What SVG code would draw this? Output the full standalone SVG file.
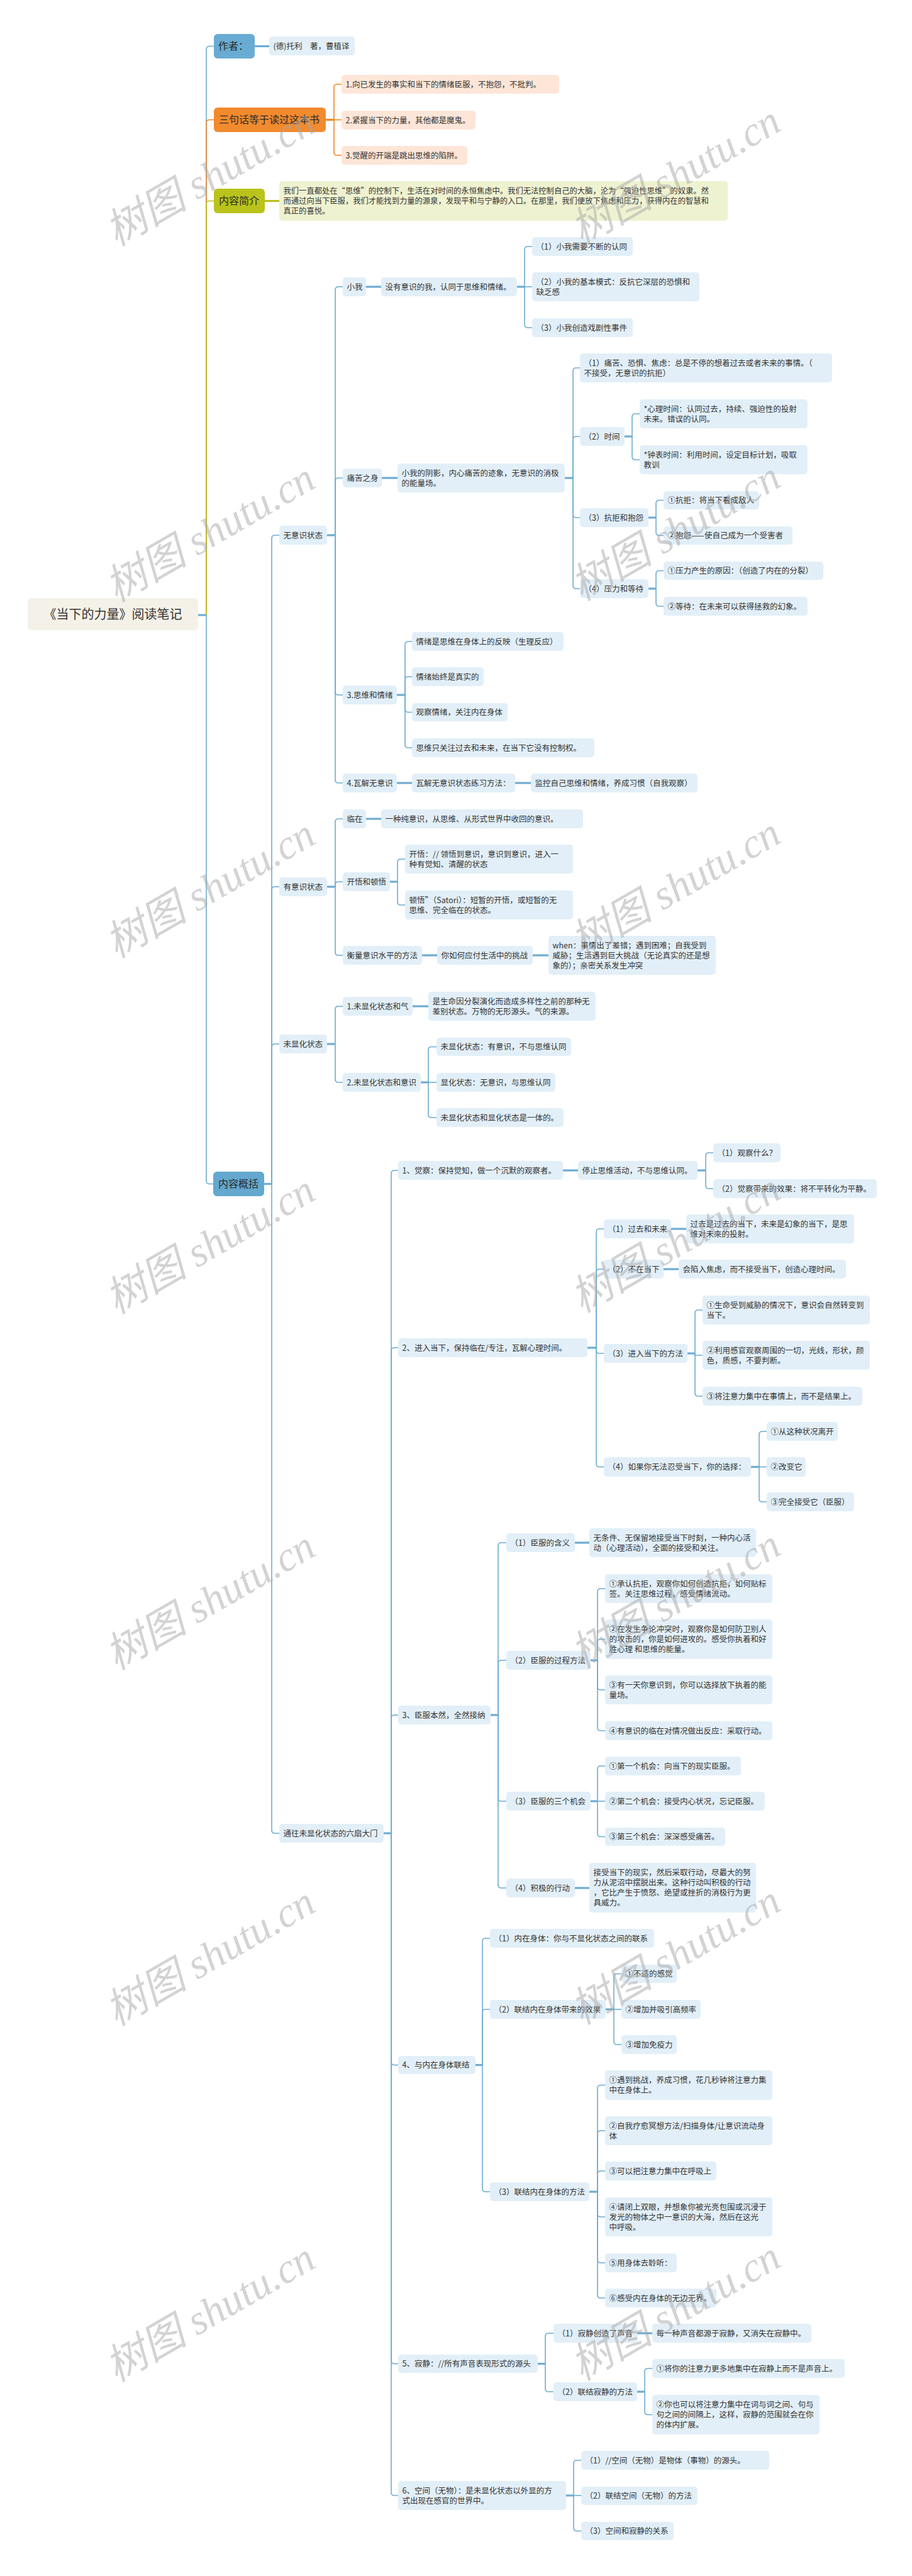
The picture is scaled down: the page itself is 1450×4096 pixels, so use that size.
<svg xmlns="http://www.w3.org/2000/svg" width="1450" height="4096" viewBox="0 0 1450 4096">
<style>
.l{fill:#e2eff8}
.p{fill:#fde6d8}
.y{fill:#eff2d0}
.t{font-family:"Noto Sans CJK SC","Liberation Sans",sans-serif;font-size:12.5px;fill:#333}
.m{font-family:"Noto Sans CJK SC","Liberation Sans",sans-serif;font-size:16px;fill:#2a2a2a}
.c{fill:none;stroke:#6eacd1;stroke-width:1.6}
.k{fill:none;stroke:#6eacd1;stroke-width:3.2}
.co{fill:none;stroke:#f0872a;stroke-width:1.6}
.ko{fill:none;stroke:#f0872a;stroke-width:3.2}
.cg{fill:none;stroke:#b7c01c;stroke-width:1.6}
.kg{fill:none;stroke:#b7c01c;stroke-width:3.2}
.w{font-family:"Liberation Serif","Noto Sans CJK SC",serif;font-style:italic;font-size:66px;fill:#a8a8a8;fill-opacity:0.5}
</style>
<rect width="1450" height="4096" fill="#ffffff"/>
<g id="connectors">
<path class="k" d="M315 978 H328"/>
<path class="c" d="M328 978 V78.5 Q328 73.5 333 73.5 H340"/>
<path class="c" d="M328 978 V1877.5 Q328 1882.5 333 1882.5 H339"/>
<path class="k" d="M405 73.5 H428"/>
<path class="co" d="M328 978 V195.5 Q328 190.5 333 190.5 H340"/>
<path class="ko" d="M518 190.5 H531"/>
<path class="co" d="M531 190.5 V139 Q531 134 536 134 H543"/>
<path class="co" d="M531 190.5 H543"/>
<path class="co" d="M531 190.5 V242 Q531 247 536 247 H543"/>
<path class="cg" d="M328 978 V324.5 Q328 319.5 333 319.5 H340"/>
<path class="kg" d="M421 319.5 H444"/>
<path class="k" d="M420 1882.5 H432"/>
<path class="c" d="M432 1882.5 V856 Q432 851 437 851 H444"/>
<path class="c" d="M432 1882.5 V1415 Q432 1410 437 1410 H444"/>
<path class="c" d="M432 1882.5 V1665 Q432 1660 437 1660 H444"/>
<path class="c" d="M432 1882.5 V2910 Q432 2915 437 2915 H444"/>
<path class="k" d="M520 851 H533"/>
<path class="c" d="M533 851 V461 Q533 456 538 456 H545"/>
<path class="c" d="M533 851 V765 Q533 760 538 760 H545"/>
<path class="c" d="M533 851 V1100 Q533 1105 538 1105 H545"/>
<path class="c" d="M533 851 V1240 Q533 1245 538 1245 H545"/>
<path class="k" d="M582 456 H606"/>
<path class="k" d="M822 456 H834"/>
<path class="c" d="M834 456 V397 Q834 392 839 392 H846"/>
<path class="c" d="M834 456 H846"/>
<path class="c" d="M834 456 V516 Q834 521 839 521 H846"/>
<path class="k" d="M607 760 H632"/>
<path class="k" d="M898 760 H911"/>
<path class="c" d="M911 760 V590 Q911 585 916 585 H922"/>
<path class="c" d="M911 760 V699 Q911 694 916 694 H922"/>
<path class="c" d="M911 760 V818 Q911 823 916 823 H922"/>
<path class="c" d="M911 760 V931 Q911 936 916 936 H922"/>
<path class="k" d="M993 694 H1005"/>
<path class="c" d="M1005 694 V663 Q1005 658 1010 658 H1017"/>
<path class="c" d="M1005 694 V726 Q1005 731 1010 731 H1017"/>
<path class="k" d="M1031 823 H1043"/>
<path class="c" d="M1043 823 V800.5 Q1043 795.5 1048 795.5 H1055"/>
<path class="c" d="M1043 823 V846.5 Q1043 851.5 1048 851.5 H1055"/>
<path class="k" d="M1031 936 H1043"/>
<path class="c" d="M1043 936 V912.5 Q1043 907.5 1048 907.5 H1055"/>
<path class="c" d="M1043 936 V959 Q1043 964 1048 964 H1055"/>
<path class="k" d="M631 1105 H644"/>
<path class="c" d="M644 1105 V1025 Q644 1020 649 1020 H655"/>
<path class="c" d="M644 1105 V1081 Q644 1076 649 1076 H655"/>
<path class="c" d="M644 1105 V1127.5 Q644 1132.5 649 1132.5 H655"/>
<path class="c" d="M644 1105 V1184 Q644 1189 649 1189 H655"/>
<path class="k" d="M631 1245 H655"/>
<path class="k" d="M819 1245 H844"/>
<path class="k" d="M520 1410 H533"/>
<path class="c" d="M533 1410 V1307 Q533 1302 538 1302 H545"/>
<path class="c" d="M533 1410 V1407 Q533 1402 538 1402 H545"/>
<path class="c" d="M533 1410 V1514 Q533 1519 538 1519 H545"/>
<path class="k" d="M582 1302 H606"/>
<path class="k" d="M620 1402 H632"/>
<path class="c" d="M632 1402 V1371 Q632 1366 637 1366 H644"/>
<path class="c" d="M632 1402 V1434 Q632 1439 637 1439 H644"/>
<path class="k" d="M671 1519 H695"/>
<path class="k" d="M847 1519 H872"/>
<path class="k" d="M520 1660 H533"/>
<path class="c" d="M533 1660 V1605 Q533 1600 538 1600 H545"/>
<path class="c" d="M533 1660 V1716 Q533 1721 538 1721 H545"/>
<path class="k" d="M656 1600 H681"/>
<path class="k" d="M669 1721 H681"/>
<path class="c" d="M681 1721 V1669.5 Q681 1664.5 686 1664.5 H694"/>
<path class="c" d="M681 1721 H694"/>
<path class="c" d="M681 1721 V1772 Q681 1777 686 1777 H694"/>
<path class="k" d="M610 2915 H622"/>
<path class="c" d="M622 2915 V1866 Q622 1861 627 1861 H633"/>
<path class="c" d="M622 2915 V2148 Q622 2143 627 2143 H633"/>
<path class="c" d="M622 2915 V2732 Q622 2727 627 2727 H633"/>
<path class="c" d="M622 2915 V3278.5 Q622 3283.5 627 3283.5 H633"/>
<path class="c" d="M622 2915 V3753.5 Q622 3758.5 627 3758.5 H633"/>
<path class="c" d="M622 2915 V3963 Q622 3968 627 3968 H633"/>
<path class="k" d="M895 1861 H919"/>
<path class="k" d="M1109 1861 H1122"/>
<path class="c" d="M1122 1861 V1838 Q1122 1833 1127 1833 H1134"/>
<path class="c" d="M1122 1861 V1885 Q1122 1890 1127 1890 H1134"/>
<path class="k" d="M934 2143 H948"/>
<path class="c" d="M948 2143 V1959 Q948 1954 953 1954 H960"/>
<path class="c" d="M948 2143 V2023 Q948 2018 953 2018 H960"/>
<path class="c" d="M948 2143 V2147 Q948 2152 953 2152 H960"/>
<path class="c" d="M948 2143 V2327.5 Q948 2332.5 953 2332.5 H960"/>
<path class="k" d="M1067 1954 H1091"/>
<path class="k" d="M1055 2018 H1079"/>
<path class="k" d="M1093 2152 H1105"/>
<path class="c" d="M1105 2152 V2088 Q1105 2083 1110 2083 H1117"/>
<path class="c" d="M1105 2152 V2155 H1117"/>
<path class="c" d="M1105 2152 V2215 Q1105 2220 1110 2220 H1117"/>
<path class="k" d="M1194 2332.5 H1207"/>
<path class="c" d="M1207 2332.5 V2281 Q1207 2276 1212 2276 H1219"/>
<path class="c" d="M1207 2332.5 H1219"/>
<path class="c" d="M1207 2332.5 V2383 Q1207 2388 1212 2388 H1219"/>
<path class="k" d="M780 2727 H792"/>
<path class="c" d="M792 2727 V2458 Q792 2453 797 2453 H805"/>
<path class="c" d="M792 2727 V2645 Q792 2640 797 2640 H805"/>
<path class="c" d="M792 2727 V2859 Q792 2864 797 2864 H805"/>
<path class="c" d="M792 2727 V2997 Q792 3002 797 3002 H805"/>
<path class="k" d="M914 2453 H937"/>
<path class="k" d="M939 2640 H950"/>
<path class="c" d="M950 2640 V2531 Q950 2526 955 2526 H962"/>
<path class="c" d="M950 2640 V2611.5 Q950 2606.5 955 2606.5 H962"/>
<path class="c" d="M950 2640 V2682 Q950 2687 955 2687 H962"/>
<path class="c" d="M950 2640 V2747 Q950 2752 955 2752 H962"/>
<path class="k" d="M939 2864 H950"/>
<path class="c" d="M950 2864 V2813 Q950 2808 955 2808 H962"/>
<path class="c" d="M950 2864 H962"/>
<path class="c" d="M950 2864 V2915.5 Q950 2920.5 955 2920.5 H962"/>
<path class="k" d="M914 3002 H937"/>
<path class="k" d="M756 3283.5 H767"/>
<path class="c" d="M767 3283.5 V3087 Q767 3082 772 3082 H779"/>
<path class="c" d="M767 3283.5 V3200 Q767 3195 772 3195 H779"/>
<path class="c" d="M767 3283.5 V3480 Q767 3485 772 3485 H779"/>
<path class="k" d="M963 3195 H976"/>
<path class="c" d="M976 3195 V3143.5 Q976 3138.5 981 3138.5 H988"/>
<path class="c" d="M976 3195 H988"/>
<path class="c" d="M976 3195 V3246 Q976 3251 981 3251 H988"/>
<path class="k" d="M937 3485 H950"/>
<path class="c" d="M950 3485 V3320.5 Q950 3315.5 955 3315.5 H962"/>
<path class="c" d="M950 3485 V3393 Q950 3388 955 3388 H962"/>
<path class="c" d="M950 3485 V3457 Q950 3452 955 3452 H962"/>
<path class="c" d="M950 3485 V3520 Q950 3525 955 3525 H962"/>
<path class="c" d="M950 3485 V3593 Q950 3598 955 3598 H962"/>
<path class="c" d="M950 3485 V3649 Q950 3654 955 3654 H962"/>
<path class="k" d="M855 3758.5 H867"/>
<path class="c" d="M867 3758.5 V3715 Q867 3710 872 3710 H880"/>
<path class="c" d="M867 3758.5 V3798 Q867 3803 872 3803 H880"/>
<path class="k" d="M1013 3710 H1037"/>
<path class="k" d="M1013 3803 H1025"/>
<path class="c" d="M1025 3803 V3771 Q1025 3766 1030 3766 H1037"/>
<path class="c" d="M1025 3803 V3834.5 Q1025 3839.5 1030 3839.5 H1037"/>
<path class="k" d="M900 3968 H912"/>
<path class="c" d="M912 3968 V3917 Q912 3912 917 3912 H924"/>
<path class="c" d="M912 3968 H924"/>
<path class="c" d="M912 3968 V4019.5 Q912 4024.5 917 4024.5 H924"/>
</g>

<g id="root"><rect x="44" y="951" width="271" height="51" rx="6" fill="#f4f2e8"/><text x="179.5" y="984" text-anchor="middle" font-family="Noto Sans CJK SC, sans-serif" font-size="20" fill="#333">《当下的力量》阅读笔记</text></g>

<g id="author"><rect x="340" y="54" width="65" height="39" rx="6" fill="#69acd3"/><text class="m" x="347" y="79">作者：</text></g>
<g id="author-1"><rect class="l" x="428" y="58" width="136" height="30" rx="5"/><text class="t" x="434.5" y="77.5">(德)托利　著，曹植译</text></g>

<g id="three"><rect x="340" y="171" width="178" height="39" rx="6" fill="#f28a2e"/><text class="m" x="348" y="196">三句话等于读过这本书</text></g>
<g id="three-1"><rect class="p" x="543" y="119" width="346" height="30" rx="5"/><text class="t" x="549.5" y="138.5">1.向已发生的事实和当下的情绪臣服，不抱怨，不批判。</text></g>
<g id="three-2"><rect class="p" x="543" y="176" width="213" height="30" rx="5"/><text class="t" x="549.5" y="195.5">2.紧握当下的力量，其他都是魔鬼。</text></g>
<g id="three-3"><rect class="p" x="543" y="232" width="200" height="30" rx="5"/><text class="t" x="549.5" y="251.5">3.觉醒的开端是跳出思维的陷阱。</text></g>

<g id="intro"><rect x="340" y="300" width="81" height="39" rx="6" fill="#bac31c"/><text class="m" x="348" y="325">内容简介</text></g>
<g id="intro-1"><rect class="y" x="444" y="288" width="713" height="63" rx="5"/><text class="t" x="450.5" y="307.5" style="font-size:12.3px">我们一直都处在“思维”的控制下，生活在对时间的永恒焦虑中。我们无法控制自己的大脑，沦为“强迫性思维”的奴隶。然</text><text class="t" x="450.5" y="323.5" style="font-size:12.3px">而通过向当下臣服，我们才能找到力量的源泉，发现平和与宁静的入口。在那里，我们便放下焦虑和压力，获得内在的智慧和</text><text class="t" x="450.5" y="339.5" style="font-size:12.3px">真正的喜悦。</text></g>

<g id="summary"><rect x="339" y="1863" width="81" height="39" rx="6" fill="#64a8cf"/><text class="m" x="347" y="1888">内容概括</text></g>

<g id="c1"><rect class="l" x="444" y="836" width="76" height="30" rx="5"/><text class="t" x="450.5" y="855.5">无意识状态</text></g>
<g id="c2"><rect class="l" x="444" y="1395" width="76" height="30" rx="5"/><text class="t" x="450.5" y="1414.5">有意识状态</text></g>
<g id="c3"><rect class="l" x="444" y="1645" width="76" height="30" rx="5"/><text class="t" x="450.5" y="1664.5">未显化状态</text></g>
<g id="c4"><rect class="l" x="444" y="2900" width="166" height="30" rx="5"/><text class="t" x="450.5" y="2919.5">通往未显化状态的六扇大门</text></g>

<g id="d1"><rect class="l" x="545" y="441" width="37" height="30" rx="5"/><text class="t" x="551.5" y="460.5">小我</text></g>
<g id="e1"><rect class="l" x="606" y="441" width="216" height="30" rx="5"/><text class="t" x="612.5" y="460.5">没有意识的我，认同于思维和情绪。</text></g>
<g id="e1a"><rect class="l" x="846" y="377" width="160" height="30" rx="5"/><text class="t" x="852.5" y="396.5">（1）小我需要不断的认同</text></g>
<g id="e1b"><rect class="l" x="846" y="433" width="266" height="46" rx="5"/><text class="t" x="852.5" y="452.5">（2）小我的基本模式：反抗它深层的恐惧和</text><text class="t" x="852.5" y="468.5">缺乏感</text></g>
<g id="e1c"><rect class="l" x="846" y="506" width="160" height="30" rx="5"/><text class="t" x="852.5" y="525.5">（3）小我创造戏剧性事件</text></g>

<g id="d2"><rect class="l" x="545" y="745" width="62" height="30" rx="5"/><text class="t" x="551.5" y="764.5">痛苦之身</text></g>
<g id="e2"><rect class="l" x="632" y="737" width="266" height="46" rx="5"/><text class="t" x="638.5" y="756.5">小我的阴影，内心痛苦的迹象，无意识的消极</text><text class="t" x="638.5" y="772.5">的能量场。</text></g>
<g id="e2a"><rect class="l" x="922" y="562" width="401" height="46" rx="5"/><text class="t" x="928.5" y="581.5">（1）痛苦、恐惧、焦虑：总是不停的想着过去或者未来的事情。（</text><text class="t" x="928.5" y="597.5">不接受，无意识的抗拒）</text></g>
<g id="e2b"><rect class="l" x="922" y="679" width="71" height="30" rx="5"/><text class="t" x="928.5" y="698.5">（2）时间</text></g>
<g id="e2b1"><rect class="l" x="1017" y="635" width="267" height="46" rx="5"/><text class="t" x="1023.5" y="654.5">*心理时间：认同过去，持续、强迫性的投射</text><text class="t" x="1023.5" y="670.5">未来。错误的认同。</text></g>
<g id="e2b2"><rect class="l" x="1017" y="708" width="267" height="46" rx="5"/><text class="t" x="1023.5" y="727.5">*钟表时间：利用时间，设定目标计划，吸取</text><text class="t" x="1023.5" y="743.5">教训</text></g>
<g id="e2c"><rect class="l" x="922" y="808" width="109" height="30" rx="5"/><text class="t" x="928.5" y="827.5">（3）抗拒和抱怨</text></g>
<g id="e2c1"><rect class="l" x="1055" y="781" width="152" height="29" rx="5"/><text class="t" x="1061.5" y="800">①抗拒：将当下看成敌人</text></g>
<g id="e2c2"><rect class="l" x="1055" y="837" width="205" height="29" rx="5"/><text class="t" x="1061.5" y="856">②抱怨——使自己成为一个受害者</text></g>
<g id="e2d"><rect class="l" x="922" y="921" width="109" height="30" rx="5"/><text class="t" x="928.5" y="940.5">（4）压力和等待</text></g>
<g id="e2d1"><rect class="l" x="1055" y="893" width="254" height="29" rx="5"/><text class="t" x="1061.5" y="912">①压力产生的原因：（创造了内在的分裂）</text></g>
<g id="e2d2"><rect class="l" x="1055" y="949" width="229" height="30" rx="5"/><text class="t" x="1061.5" y="968.5">②等待：在未来可以获得拯救的幻象。</text></g>

<g id="d3"><rect class="l" x="545" y="1090" width="86" height="30" rx="5"/><text class="t" x="551.5" y="1109.5">3.思维和情绪</text></g>
<g id="d3a"><rect class="l" x="655" y="1005" width="241" height="30" rx="5"/><text class="t" x="661.5" y="1024.5">情绪是思维在身体上的反映（生理反应）</text></g>
<g id="d3b"><rect class="l" x="655" y="1061" width="114" height="30" rx="5"/><text class="t" x="661.5" y="1080.5">情绪始终是真实的</text></g>
<g id="d3c"><rect class="l" x="655" y="1118" width="152" height="29" rx="5"/><text class="t" x="661.5" y="1137">观察情绪，关注内在身体</text></g>
<g id="d3d"><rect class="l" x="655" y="1174" width="290" height="30" rx="5"/><text class="t" x="661.5" y="1193.5">思维只关注过去和未来，在当下它没有控制权。</text></g>
<g id="d4"><rect class="l" x="545" y="1230" width="86" height="30" rx="5"/><text class="t" x="551.5" y="1249.5">4.瓦解无意识</text></g>
<g id="d4a"><rect class="l" x="655" y="1230" width="164" height="30" rx="5"/><text class="t" x="661.5" y="1249.5">瓦解无意识状态练习方法：</text></g>
<g id="d4b"><rect class="l" x="844" y="1230" width="265" height="30" rx="5"/><text class="t" x="850.5" y="1249.5">监控自己思维和情绪，养成习惯（自我观察）</text></g>

<g id="g1"><rect class="l" x="545" y="1287" width="37" height="30" rx="5"/><text class="t" x="551.5" y="1306.5">临在</text></g>
<g id="g1a"><rect class="l" x="606" y="1287" width="321" height="30" rx="5"/><text class="t" x="612.5" y="1306.5">一种纯意识，从思维、从形式世界中收回的意识。</text></g>
<g id="g2"><rect class="l" x="545" y="1387" width="75" height="30" rx="5"/><text class="t" x="551.5" y="1406.5">开悟和顿悟</text></g>
<g id="g2a"><rect class="l" x="644" y="1343" width="267" height="46" rx="5"/><text class="t" x="650.5" y="1362.5">开悟：// 领悟到意识，意识到意识，进入一</text><text class="t" x="650.5" y="1378.5">种有觉知、清醒的状态</text></g>
<g id="g2b"><rect class="l" x="644" y="1416" width="267" height="46" rx="5"/><text class="t" x="650.5" y="1435.5">顿悟”（Satori）：短暂的开悟，或短暂的无</text><text class="t" x="650.5" y="1451.5">思维、完全临在的状态。</text></g>
<g id="g3"><rect class="l" x="545" y="1504" width="126" height="30" rx="5"/><text class="t" x="551.5" y="1523.5">衡量意识水平的方法</text></g>
<g id="g3a"><rect class="l" x="695" y="1504" width="152" height="30" rx="5"/><text class="t" x="701.5" y="1523.5">你如何应付生活中的挑战</text></g>
<g id="g3b"><rect class="l" x="872" y="1488" width="266" height="62" rx="5"/><text class="t" x="878.5" y="1507.5">when：事情出了差错；遇到困难；自我受到</text><text class="t" x="878.5" y="1523.5">威胁；生活遇到巨大挑战（无论真实的还是想</text><text class="t" x="878.5" y="1539.5">象的）；亲密关系发生冲突</text></g>

<g id="h1"><rect class="l" x="545" y="1585" width="111" height="30" rx="5"/><text class="t" x="551.5" y="1604.5">1.未显化状态和气</text></g>
<g id="h1a"><rect class="l" x="681" y="1577" width="266" height="46" rx="5"/><text class="t" x="687.5" y="1596.5">是生命因分裂演化而造成多样性之前的那种无</text><text class="t" x="687.5" y="1612.5">差别状态。万物的无形源头。气的来源。</text></g>
<g id="h2"><rect class="l" x="545" y="1706" width="124" height="30" rx="5"/><text class="t" x="551.5" y="1725.5">2.未显化状态和意识</text></g>
<g id="h2a"><rect class="l" x="694" y="1650" width="214" height="29" rx="5"/><text class="t" x="700.5" y="1669">未显化状态：有意识，不与思维认同</text></g>
<g id="h2b"><rect class="l" x="694" y="1706" width="189" height="30" rx="5"/><text class="t" x="700.5" y="1725.5">显化状态：无意识，与思维认同</text></g>
<g id="h2c"><rect class="l" x="694" y="1762" width="202" height="30" rx="5"/><text class="t" x="700.5" y="1781.5">未显化状态和显化状态是一体的。</text></g>

<g id="f1"><rect class="l" x="633" y="1846" width="262" height="30" rx="5"/><text class="t" x="639.5" y="1865.5">1、觉察：保持觉知，做一个沉默的观察者。</text></g>
<g id="f1a"><rect class="l" x="919" y="1846" width="190" height="30" rx="5"/><text class="t" x="925.5" y="1865.5">停止思维活动，不与思维认同。</text></g>
<g id="f1a1"><rect class="l" x="1134" y="1818" width="107" height="30" rx="5"/><text class="t" x="1140.5" y="1837.5">（1）观察什么？</text></g>
<g id="f1a2"><rect class="l" x="1134" y="1875" width="260" height="30" rx="5"/><text class="t" x="1140.5" y="1894.5">（2）觉察带来的效果：将不平转化为平静。</text></g>

<g id="f2"><rect class="l" x="633" y="2128" width="301" height="30" rx="5"/><text class="t" x="639.5" y="2147.5">2、进入当下，保持临在/专注，瓦解心理时间。</text></g>
<g id="f2a"><rect class="l" x="960" y="1939" width="107" height="30" rx="5"/><text class="t" x="966.5" y="1958.5">（1）过去和未来</text></g>
<g id="f2a1"><rect class="l" x="1091" y="1931" width="267" height="46" rx="5"/><text class="t" x="1097.5" y="1950.5">过去是过去的当下，未来是幻象的当下，是思</text><text class="t" x="1097.5" y="1966.5">维对未来的投射。</text></g>
<g id="f2b"><rect class="l" x="960" y="2003" width="95" height="30" rx="5"/><text class="t" x="966.5" y="2022.5">（2）不在当下</text></g>
<g id="f2b1"><rect class="l" x="1079" y="2003" width="266" height="30" rx="5"/><text class="t" x="1085.5" y="2022.5">会陷入焦虑，而不接受当下，创造心理时间。</text></g>
<g id="f2c"><rect class="l" x="960" y="2137" width="133" height="30" rx="5"/><text class="t" x="966.5" y="2156.5">（3）进入当下的方法</text></g>
<g id="f2c1"><rect class="l" x="1117" y="2060" width="266" height="46" rx="5"/><text class="t" x="1123.5" y="2079.5">①生命受到威胁的情况下，意识会自然转变到</text><text class="t" x="1123.5" y="2095.5">当下。</text></g>
<g id="f2c2"><rect class="l" x="1117" y="2132" width="266" height="46" rx="5"/><text class="t" x="1123.5" y="2151.5">②利用感官观察周围的一切，光线，形状，颜</text><text class="t" x="1123.5" y="2167.5">色，质感，不要判断。</text></g>
<g id="f2c3"><rect class="l" x="1117" y="2205" width="254" height="30" rx="5"/><text class="t" x="1123.5" y="2224.5">③将注意力集中在事情上，而不是结果上。</text></g>
<g id="f2d"><rect class="l" x="960" y="2317" width="234" height="31" rx="5"/><text class="t" x="966.5" y="2337">（4）如果你无法忍受当下，你的选择：</text></g>
<g id="f2d1"><rect class="l" x="1219" y="2261" width="113" height="30" rx="5"/><text class="t" x="1225.5" y="2280.5">①从这种状况离开</text></g>
<g id="f2d2"><rect class="l" x="1219" y="2317" width="62" height="31" rx="5"/><text class="t" x="1225.5" y="2337">②改变它</text></g>
<g id="f2d3"><rect class="l" x="1219" y="2373" width="139" height="30" rx="5"/><text class="t" x="1225.5" y="2392.5">③完全接受它（臣服）</text></g>

<g id="f3"><rect class="l" x="633" y="2712" width="147" height="30" rx="5"/><text class="t" x="639.5" y="2731.5">3、臣服本然，全然接纳</text></g>
<g id="f3a"><rect class="l" x="805" y="2438" width="109" height="30" rx="5"/><text class="t" x="811.5" y="2457.5">（1）臣服的含义</text></g>
<g id="f3a1"><rect class="l" x="937" y="2430" width="265" height="46" rx="5"/><text class="t" x="943.5" y="2449.5">无条件、无保留地接受当下时刻，一种内心活</text><text class="t" x="943.5" y="2465.5">动（心理活动），全面的接受和关注。</text></g>
<g id="f3b"><rect class="l" x="805" y="2625" width="134" height="30" rx="5"/><text class="t" x="811.5" y="2644.5">（2）臣服的过程方法</text></g>
<g id="f3b1"><rect class="l" x="962" y="2503" width="266" height="46" rx="5"/><text class="t" x="968.5" y="2522.5">①承认抗拒，观察你如何创造抗拒，如何贴标</text><text class="t" x="968.5" y="2538.5">签。关注思维过程，感受情绪流动。</text></g>
<g id="f3b2"><rect class="l" x="962" y="2575" width="266" height="63" rx="5"/><text class="t" x="968.5" y="2594.5">②在发生争论冲突时，观察你是如何防卫别人</text><text class="t" x="968.5" y="2610.5">的攻击的，你是如何进攻的。感受你执着和好</text><text class="t" x="968.5" y="2626.5">胜心理 和思维的能量。</text></g>
<g id="f3b3"><rect class="l" x="962" y="2664" width="266" height="46" rx="5"/><text class="t" x="968.5" y="2683.5">③有一天你意识到，你可以选择放下执着的能</text><text class="t" x="968.5" y="2699.5">量场。</text></g>
<g id="f3b4"><rect class="l" x="962" y="2737" width="266" height="30" rx="5"/><text class="t" x="968.5" y="2756.5">④有意识的临在对情况做出反应：采取行动。</text></g>
<g id="f3c"><rect class="l" x="805" y="2849" width="134" height="30" rx="5"/><text class="t" x="811.5" y="2868.5">（3）臣服的三个机会</text></g>
<g id="f3c1"><rect class="l" x="962" y="2793" width="216" height="30" rx="5"/><text class="t" x="968.5" y="2812.5">①第一个机会：向当下的现实臣服。</text></g>
<g id="f3c2"><rect class="l" x="962" y="2849" width="254" height="30" rx="5"/><text class="t" x="968.5" y="2868.5">②第二个机会：接受内心状况，忘记臣服。</text></g>
<g id="f3c3"><rect class="l" x="962" y="2906" width="191" height="29" rx="5"/><text class="t" x="968.5" y="2925">③第三个机会：深深感受痛苦。</text></g>
<g id="f3d"><rect class="l" x="805" y="2987" width="109" height="30" rx="5"/><text class="t" x="811.5" y="3006.5">（4）积极的行动</text></g>
<g id="f3d1"><rect class="l" x="937" y="2962" width="265" height="79" rx="5"/><text class="t" x="943.5" y="2981.5">接受当下的现实，然后采取行动，尽最大的努</text><text class="t" x="943.5" y="2997.5">力从泥沼中摆脱出来。这种行动叫积极的行动</text><text class="t" x="943.5" y="3013.5">，它比产生于愤怒、绝望或挫折的消极行为更</text><text class="t" x="943.5" y="3029.5">具威力。</text></g>

<g id="f4"><rect class="l" x="633" y="3269" width="123" height="29" rx="5"/><text class="t" x="639.5" y="3288">4、与内在身体联结</text></g>
<g id="f4a"><rect class="l" x="779" y="3067" width="261" height="30" rx="5"/><text class="t" x="785.5" y="3086.5">（1）内在身体：你与不显化状态之间的联系</text></g>
<g id="f4b"><rect class="l" x="779" y="3180" width="184" height="30" rx="5"/><text class="t" x="785.5" y="3199.5">（2）联结内在身体带来的效果</text></g>
<g id="f4b1"><rect class="l" x="988" y="3124" width="88" height="29" rx="5"/><text class="t" x="994.5" y="3143">①不适的感觉</text></g>
<g id="f4b2"><rect class="l" x="988" y="3180" width="126" height="30" rx="5"/><text class="t" x="994.5" y="3199.5">②增加并吸引高频率</text></g>
<g id="f4b3"><rect class="l" x="988" y="3236" width="88" height="30" rx="5"/><text class="t" x="994.5" y="3255.5">③增加免疫力</text></g>
<g id="f4c"><rect class="l" x="779" y="3470" width="158" height="30" rx="5"/><text class="t" x="785.5" y="3489.5">（3）联结内在身体的方法</text></g>
<g id="f4c1"><rect class="l" x="962" y="3292" width="266" height="47" rx="5"/><text class="t" x="968.5" y="3311.5">①遇到挑战，养成习惯，花几秒钟将注意力集</text><text class="t" x="968.5" y="3327.5">中在身体上。</text></g>
<g id="f4c2"><rect class="l" x="962" y="3365" width="266" height="46" rx="5"/><text class="t" x="968.5" y="3384.5">②自我疗愈冥想方法/扫描身体/让意识流动身</text><text class="t" x="968.5" y="3400.5">体</text></g>
<g id="f4c3"><rect class="l" x="962" y="3437" width="177" height="30" rx="5"/><text class="t" x="968.5" y="3456.5">③可以把注意力集中在呼吸上</text></g>
<g id="f4c4"><rect class="l" x="962" y="3494" width="266" height="62" rx="5"/><text class="t" x="968.5" y="3513.5">④请闭上双眼，并想象你被光亮包围或沉浸于</text><text class="t" x="968.5" y="3529.5">发光的物体之中一意识的大海，然后在这光</text><text class="t" x="968.5" y="3545.5">中呼吸。</text></g>
<g id="f4c5"><rect class="l" x="962" y="3583" width="114" height="30" rx="5"/><text class="t" x="968.5" y="3602.5">⑤用身体去聆听：</text></g>
<g id="f4c6"><rect class="l" x="962" y="3639" width="177" height="30" rx="5"/><text class="t" x="968.5" y="3658.5">⑥感受内在身体的无边无界。</text></g>

<g id="f5"><rect class="l" x="633" y="3744" width="222" height="29" rx="5"/><text class="t" x="639.5" y="3763">5、寂静：//所有声音表现形式的源头</text></g>
<g id="f5a"><rect class="l" x="880" y="3695" width="133" height="30" rx="5"/><text class="t" x="886.5" y="3714.5">（1）寂静创造了声音</text></g>
<g id="f5a1"><rect class="l" x="1037" y="3695" width="253" height="30" rx="5"/><text class="t" x="1043.5" y="3714.5">每一种声音都源于寂静，又消失在寂静中。</text></g>
<g id="f5b"><rect class="l" x="880" y="3788" width="133" height="30" rx="5"/><text class="t" x="886.5" y="3807.5">（2）联结寂静的方法</text></g>
<g id="f5b1"><rect class="l" x="1037" y="3751" width="306" height="30" rx="5"/><text class="t" x="1043.5" y="3770.5">①将你的注意力更多地集中在寂静上而不是声音上。</text></g>
<g id="f5b2"><rect class="l" x="1037" y="3808" width="266" height="63" rx="5"/><text class="t" x="1043.5" y="3827.5">②你也可以将注意力集中在词与词之间、句与</text><text class="t" x="1043.5" y="3843.5">句之间的间隔上，这样，寂静的范围就会在你</text><text class="t" x="1043.5" y="3859.5">的体内扩展。</text></g>

<g id="f6"><rect class="l" x="633" y="3945" width="267" height="46" rx="5"/><text class="t" x="639.5" y="3964.5">6、空间（无物）：是未显化状态以外显的方</text><text class="t" x="639.5" y="3980.5">式出现在感官的世界中。</text></g>
<g id="f6a"><rect class="l" x="924" y="3897" width="299" height="30" rx="5"/><text class="t" x="930.5" y="3916.5">（1）//空间（无物）是物体（事物）的源头。</text></g>
<g id="f6b"><rect class="l" x="924" y="3954" width="185" height="29" rx="5"/><text class="t" x="930.5" y="3973">（2）联结空间（无物）的方法</text></g>
<g id="f6c"><rect class="l" x="924" y="4010" width="147" height="29" rx="5"/><text class="t" x="930.5" y="4029">（3）空间和寂静的关系</text></g>

<g id="watermarks">
<text class="w" x="345" y="300" text-anchor="middle" transform="rotate(-30 345 300)">树图 shutu.cn</text>
<text class="w" x="1085" y="298" text-anchor="middle" transform="rotate(-30 1085 298)">树图 shutu.cn</text>
<text class="w" x="345" y="866" text-anchor="middle" transform="rotate(-30 345 866)">树图 shutu.cn</text>
<text class="w" x="1085" y="864" text-anchor="middle" transform="rotate(-30 1085 864)">树图 shutu.cn</text>
<text class="w" x="345" y="1432" text-anchor="middle" transform="rotate(-30 345 1432)">树图 shutu.cn</text>
<text class="w" x="1085" y="1430" text-anchor="middle" transform="rotate(-30 1085 1430)">树图 shutu.cn</text>
<text class="w" x="345" y="1998" text-anchor="middle" transform="rotate(-30 345 1998)">树图 shutu.cn</text>
<text class="w" x="1085" y="1996" text-anchor="middle" transform="rotate(-30 1085 1996)">树图 shutu.cn</text>
<text class="w" x="345" y="2564" text-anchor="middle" transform="rotate(-30 345 2564)">树图 shutu.cn</text>
<text class="w" x="1085" y="2562" text-anchor="middle" transform="rotate(-30 1085 2562)">树图 shutu.cn</text>
<text class="w" x="345" y="3130" text-anchor="middle" transform="rotate(-30 345 3130)">树图 shutu.cn</text>
<text class="w" x="1085" y="3128" text-anchor="middle" transform="rotate(-30 1085 3128)">树图 shutu.cn</text>
<text class="w" x="345" y="3696" text-anchor="middle" transform="rotate(-30 345 3696)">树图 shutu.cn</text>
<text class="w" x="1085" y="3694" text-anchor="middle" transform="rotate(-30 1085 3694)">树图 shutu.cn</text>
</g>
</svg>
